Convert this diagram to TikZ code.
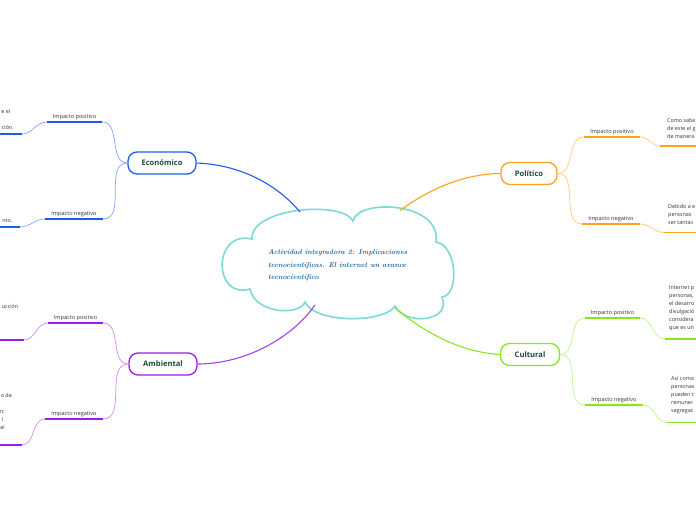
\documentclass[tikz,border=0pt]{standalone}
\usepackage{fontspec}
\setsansfont{Open Sans}
\definecolor{tc}{HTML}{1D4B3A}
\definecolor{txt}{HTML}{333333}
\definecolor{cloudc}{HTML}{7DD9D6}
\definecolor{cloudtxt}{HTML}{1966A6}
\definecolor{ecoc}{HTML}{1F5AF0}
\definecolor{ecol}{HTML}{86A4FF}
\definecolor{ambc}{HTML}{9A1EE6}
\definecolor{ambl}{HTML}{CF8CF7}
\definecolor{polc}{HTML}{FFA21A}
\definecolor{poll}{HTML}{FFCB7A}
\definecolor{culc}{HTML}{86E81A}
\definecolor{cull}{HTML}{BDF58A}
\tikzset{
  topic/.style={draw, line width=1.3pt, rounded corners=9pt, minimum height=22pt,
    font=\sffamily\bfseries\fontsize{7.6}{9}\selectfont, text=tc, fill=white, inner sep=0pt},
  lbl/.style={font=\sffamily\fontsize{5.6}{7}\selectfont, text=txt, inner xsep=0pt,
    inner ysep=2.2pt, anchor=south, text height=4.3pt, text depth=1.2pt},
  leaf/.style={font=\sffamily\fontsize{5.4}{8}\selectfont, text=txt, inner sep=0pt,
    align=left, anchor=north west},
  frag/.style={font=\sffamily\fontsize{5.4}{8}\selectfont, text=txt, inner sep=0pt, anchor=base east},
  uline/.style={line width=1.7pt},
  twig/.style={line width=0.7pt},
  mainbr/.style={line width=1.1pt},
  cloudline/.style={draw=cloudc, line width=1.6pt, fill=white},
}
\begin{document}
\begin{tikzpicture}[x=1pt,y=-1pt]
\useasboundingbox[fill=white] (0,0) rectangle (696,520);

% cloud (central idea)
\coordinate (cA) at (250,289);
\coordinate (cB) at (252,239);
\coordinate (cC) at (353,221);
\coordinate (cD) at (436,242);
\coordinate (cE) at (442,297);
\coordinate (cF) at (395,306);
\coordinate (cG) at (305,302);
\path[cloudline] (cA) .. controls (213,300) and (212,230) .. (cB)
  .. controls (250,208) and (342,200) .. (cC)
  .. controls (358,198) and (442,202) .. (cD)
  .. controls (457,245) and (460,295) .. (cE)
  .. controls (452,322) and (405,326) .. (cF)
  .. controls (385,323) and (315,324) .. (cG)
  .. controls (300,316) and (255,314) .. (cA) -- cycle;
\node[font=\itshape\bfseries\fontsize{7.1}{12.5}\selectfont, text=cloudtxt, align=left,
      anchor=north west, inner sep=0pt] (title) at (268,249.5)
  {Actividad integradora 2: Implicaciones\\tecnocientificas. El internet un avance\\tecnocientifico};

\coordinate (cEco) at (300,212);
\coordinate (cPol) at (400,210.5);
\coordinate (cAmb) at (315,305);
\coordinate (cCul) at (395,308);

% topics
\node[topic, draw=ecoc, minimum width=68pt] (eco) at (162,163) {Económico};
\node[topic, draw=ambc, minimum width=68pt] (amb) at (163,364) {Ambiental};
\node[topic, draw=polc, minimum width=56pt] (pol) at (529,173.5) {Político};
\node[topic, draw=culc, minimum width=59pt] (cul) at (530,354.5) {Cultural};

% main branches
\draw[mainbr, ecoc] (cEco) .. controls (280,188) and (245,165) .. (eco.east);
\draw[mainbr, ambc!85] (cAmb) .. controls (292,338) and (245,364) .. (amb.east);
\draw[mainbr, polc] (cPol) .. controls (428,190) and (462,174) .. (pol.west);
\draw[mainbr, culc] (cCul) .. controls (428,335) and (462,352) .. (cul.west);

% ---- Económico
\node[lbl, minimum width=55pt] (ep) at (74.5,122) {Impacto positivo};
\node[lbl, minimum width=58pt] (en) at (74,219) {Impacto negativo};
\draw[uline, ecoc] (ep.south west) -- (ep.south east);
\draw[uline, ecoc] (en.south west) -- (en.south east);
\draw[twig, ecol] (eco.west) to[out=180,in=0] (ep.south east);
\draw[twig, ecol] (eco.west) to[out=180,in=0] (en.south east);
\coordinate (ep1) at (22,134); \coordinate (ep0) at (0,134);
\coordinate (en1) at (20,227); \coordinate (en0) at (0,227);
\draw[uline, ecoc] (ep0) -- (ep1);
\draw[uline, ecoc] (en0) -- (en1);
\draw[twig, ecol] (ep.south west) to[out=180,in=0] (ep1);
\draw[twig, ecol] (en.south west) to[out=180,in=0] (en1);
\node[frag] (f1) at (10.5,113) {e el};
\node[frag] (f2) at (14,129) {ción.};
\node[frag] (f3) at (12.5,222) {nto.};

% ---- Ambiental
\node[lbl, minimum width=55pt] (ap) at (75.5,323) {Impacto positivo};
\node[lbl, minimum width=58pt] (an) at (74,419) {Impacto negativo};
\draw[uline, ambc] (ap.south west) -- (ap.south east);
\draw[uline, ambc] (an.south west) -- (an.south east);
\draw[twig, ambl] (amb.west) to[out=180,in=0] (ap.south east);
\draw[twig, ambl] (amb.west) to[out=180,in=0] (an.south east);
\coordinate (ap1) at (24,340); \coordinate (ap0) at (0,340);
\coordinate (an1) at (22,445); \coordinate (an0) at (0,445);
\draw[uline, ambc] (ap0) -- (ap1);
\draw[uline, ambc] (an0) -- (an1);
\draw[twig, ambl] (ap.south west) to[out=180,in=0] (ap1);
\draw[twig, ambl] (an.south west) to[out=180,in=0] (an1);
\node[frag] (f4) at (18.5,308) {ucción};
\node[frag] (f5) at (12,397) {o de};
\node[frag] (f6) at (5,413) {n;};
\node[frag] (f7) at (3.5,421) {l};
\node[frag] (f8) at (5,429) {el};

% ---- Político
\node[lbl, minimum width=56pt] (pp) at (612,137) {Impacto positivo};
\node[lbl, minimum width=58pt] (pn) at (611,224) {Impacto negativo};
\draw[uline, polc] (pp.south west) -- (pp.south east);
\draw[uline, polc] (pn.south west) -- (pn.south east);
\draw[twig, poll] (pol.east) to[out=0,in=180] (pp.south west);
\draw[twig, poll] (pol.east) to[out=0,in=180] (pn.south west);
\coordinate (pp1) at (660,146); \coordinate (pp0) at (696,146);
\coordinate (pn1) at (664,232.5); \coordinate (pn0) at (696,232.5);
\draw[uline, polc] (pp1) -- (pp0);
\draw[uline, polc] (pn1) -- (pn0);
\draw[twig, poll] (pp.south east) to[out=0,in=180] (pp1);
\draw[twig, poll] (pn.south east) to[out=0,in=180] (pn1);
\node[leaf] (pt1) at (667,118) {Como sabe\\de este el g\\de manera};
\node[leaf] (pt2) at (668,204) {Debido a e\\personas\\ser tantas};

% ---- Cultural
\node[lbl, minimum width=55pt] (cp) at (612.5,318) {Impacto positivo};
\node[lbl, minimum width=58pt] (cn) at (614,405) {Impacto negativo};
\draw[uline, culc] (cp.south west) -- (cp.south east);
\draw[uline, culc] (cn.south west) -- (cn.south east);
\draw[twig, cull] (cul.east) to[out=0,in=180] (cp.south west);
\draw[twig, cull] (cul.east) to[out=0,in=180] (cn.south west);
\coordinate (cp1) at (665,339); \coordinate (cp0) at (696,339);
\coordinate (cn1) at (667,422.5); \coordinate (cn0) at (696,422.5);
\draw[uline, culc] (cp1) -- (cp0);
\draw[uline, culc] (cn1) -- (cn0);
\draw[twig, cull] (cp.south east) to[out=0,in=180] (cp1);
\draw[twig, cull] (cn.south east) to[out=0,in=180] (cn1);
\node[leaf] (ct1) at (669,285) {Internet p\\personas,\\el desarro\\divulgació\\considera\\que es un};
\node[leaf] (ct2) at (671,376) {Así como\\personas\\pueden t\\remuner\\segregac};
\end{tikzpicture}
\end{document}
